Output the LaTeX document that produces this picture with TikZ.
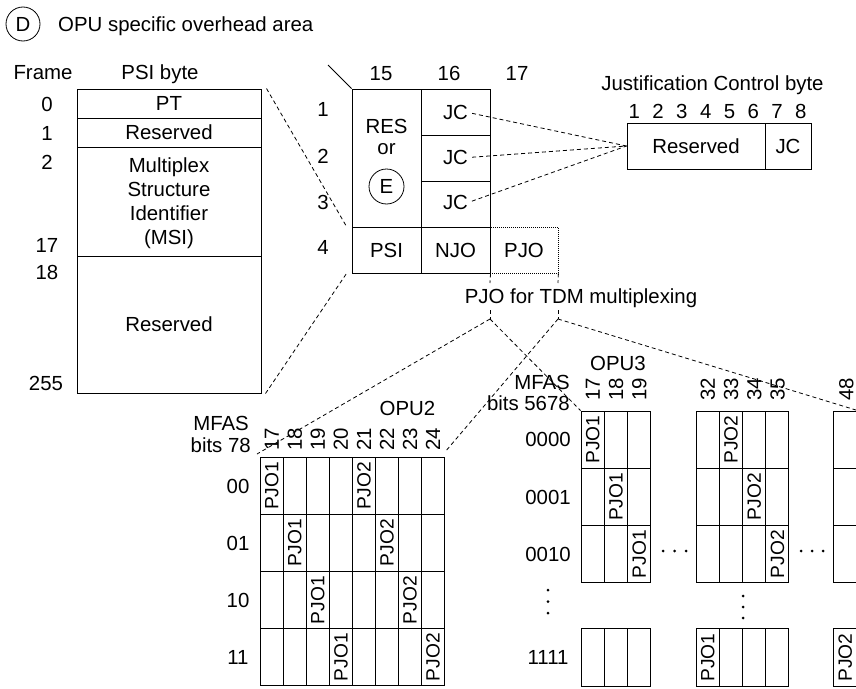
\documentclass[tikz,border=0pt]{standalone}
\usepackage{fontspec}
\setmainfont{Liberation Sans}
\tikzset{
  every node/.style={inner sep=0pt, font=\fontsize{20.4}{24}\selectfont, text height=14.6pt, text depth=0pt},
  cellbox/.style={draw=black, line width=1pt},
  dashline/.style={draw=black, line width=0.8pt, dash pattern=on 4pt off 3pt},
  dotline/.style={draw=black, line width=0.8pt, dash pattern=on 1pt off 1pt},
  rot/.style={rotate=90},
  pjotxt/.style={rotate=90, font=\fontsize{19.2}{22}\selectfont, text height=13.7pt},
  thinline/.style={draw=black, line width=0.8pt}
}
\begin{document}
\begin{tikzpicture}[x=1pt,y=-1pt]
\useasboundingbox (0,0) rectangle (856,688);
\clip (0,0) rectangle (856,688);

% title
\node[circle, thinline, minimum size=34] (dcirc) at (23,24) {D};
\node[anchor=west] (title) at (58,24) {OPU specific overhead area};

% PSI byte box
\node (frame) at (43,72) {Frame};
\node (psibyte) at (160,72) {PSI byte};
\node[cellbox, minimum width=184, minimum height=29] (pt) at (169,103.5) {PT};
\node[cellbox, minimum width=184, minimum height=29] (res1) at (169,132.5) {Reserved};
\node[cellbox, minimum width=184, minimum height=109] (msi) at (169,201.5) {};
\node[cellbox, minimum width=184, minimum height=137] (res2) at (169,324.5) {Reserved};
\node (msi1) at (169,165) {Multiplex};
\node (msi2) at (169,189) {Structure};
\node (msi3) at (169,213) {Identifier};
\node (msi4) at (169,237) {(MSI)};
\node (f0) at (47,104.5) {0};
\node (f1) at (47,133) {1};
\node (f2) at (47,162) {2};
\node (f17) at (47,245) {17};
\node (f18) at (47,272) {18};
\node (f255) at (46,383) {255};

% central overhead block
\node[dotline, minimum width=68, minimum height=46] (pjo) at (524,250) {PJO};
\node[cellbox, minimum width=69, minimum height=138] (res) at (386.5,158) {};
\node[cellbox, minimum width=69, minimum height=46] (jcc1) at (455.5,112) {};
\node[cellbox, minimum width=69, minimum height=46] (jcc2) at (455.5,158) {};
\node[cellbox, minimum width=69, minimum height=46] (jcc3) at (455.5,204) {};
\node[cellbox, minimum width=69, minimum height=46] (psi) at (386.5,250) {PSI};
\node[cellbox, minimum width=69, minimum height=46] (njo) at (455.5,250) {NJO};
\node (restxt) at (386.5,126) {RES};
\node (ortxt) at (386.5,147.5) {or};
\node[circle, thinline, minimum size=35] (ecirc) at (386.5,186.5) {E};
\node (jct1) at (455.5,112.5) {JC};
\node (jct2) at (455.5,157.5) {JC};
\node (jct3) at (455.5,202.5) {JC};
\node (c15) at (381,73) {15};
\node (c16) at (449,73) {16};
\node (c17) at (517,73) {17};
\node (r1) at (323,109) {1};
\node (r2) at (323,156) {2};
\node (r3) at (323,202) {3};
\node (r4) at (323,247) {4};
\coordinate (diagend) at (328,65);
\draw[thinline] (res.north west) -- (diagend);

% connectors PSI box -> PSI cell
\draw[dashline] ([xshift=5pt]pt.north east) -- ([xshift=-5pt]psi.north west);
\draw[dashline] ([xshift=4pt]res2.south east) -- ([xshift=-5pt]psi.south west);

% Justification control byte
\node (jctitle) at (712.5,83) {Justification Control byte};
\foreach \i in {1,...,8} { \node (bit\i) at ({634.3+23.8*(\i-1)},111.5) {\i}; }
\node[cellbox, minimum width=138, minimum height=46] (jbres) at (696,146) {Reserved};
\node[cellbox, minimum width=46, minimum height=46] (jbjc) at (788,146) {JC};
\foreach \i in {1,2,3} { \draw[dashline, shorten <=4pt] (jct\i.east) -- (jbres.west); }

% PJO bracket
\node (pjolab) at (581,296) {PJO for TDM multiplexing};
\coordinate (bk1a) at (490,283);
\coordinate (bk2a) at (558,283);
\coordinate (bk1b) at (490,310);
\coordinate (bk2b) at (558,310);
\coordinate (bk1) at (490,319);
\coordinate (bk2) at (558,319);
\draw[dashline] (njo.south east) -- (bk1a);
\draw[dashline] (pjo.south east) -- (bk2a);
\draw[dashline] (bk1b) -- (bk1);
\draw[dashline] (bk2b) -- (bk2);

% OPU2 grid
\node (opu2) at (407.5,408) {OPU2};
\node[anchor=east] (mf2) at (249,423) {MFAS};
\node[anchor=east] (bt2) at (251,445) {bits 78};
\foreach \r in {0,...,3} {
  \foreach \c in {0,...,7} {
    \node[cellbox, minimum width=23.05, minimum height=57.1] (a-\r-\c) at ({260+23.05*(\c+0.5)},{457.3+57.1*(\r+0.5)}) {};
  }
}
\foreach \c/\n in {0/17,1/18,2/19,3/20,4/21,5/22,6/23,7/24} {
  \node[rot, anchor=west] (h2-\c) at ({260+23.05*(\c+0.5)},451) {\n};
}
\foreach \r/\n in {0/00,1/01,2/10,3/11} {
  \node (m2-\r) at (238,{457.3+57.1*(\r+0.5)}) {\n};
}
\foreach \r in {0,...,3} {
  \pgfmathtruncatemacro{\cc}{\r+4}
  \node[pjotxt] (p1-\r) at (a-\r-\r) {PJO1};
  \node[pjotxt] (p2-\r) at (a-\r-\cc) {PJO2};
}

% OPU3 grids
\node (opu3) at (618,363) {OPU3};
\node[anchor=east] (mf3) at (570,382) {MFAS};
\node[anchor=east] (bt3) at (570,403) {bits 5678};
\foreach \r/\y in {0/439.6,1/496.8,2/554.0,3/657.4} {
  \foreach \c in {0,1,2} {
    \node[cellbox, minimum width=23.2, minimum height=57.2] (g1-\r-\c) at ({581+23.2*(\c+0.5)},\y) {};
  }
  \foreach \c in {0,1,2,3} {
    \node[cellbox, minimum width=23.2, minimum height=57.2] (g2-\r-\c) at ({696+23.2*(\c+0.5)},\y) {};
  }
  \node[cellbox, minimum width=24, minimum height=57.2] (g3-\r) at (845,\y) {};
}
\foreach \r/\y/\n in {0/439.6/0000,1/496.8/0001,2/554.0/0010,3/657.4/1111} {
  \node (m3-\r) at (548,\y) {\n};
}
\foreach \x/\n in {592.6/17,615.8/18,639.0/19,707.6/32,730.8/33,754.0/34,777.2/35,846/48} {
  \node[rot, anchor=west] (h3-\n) at (\x,401) {\n};
}
\node[pjotxt] (q1) at (g1-0-0) {PJO1};
\node[pjotxt] (q2) at (g1-1-1) {PJO1};
\node[pjotxt] (q3) at (g1-2-2) {PJO1};
\node[pjotxt] (q4) at (g2-0-1) {PJO2};
\node[pjotxt] (q5) at (g2-1-2) {PJO2};
\node[pjotxt] (q6) at (g2-2-3) {PJO2};
\node[pjotxt] (q7) at (g2-3-0) {PJO1};
\node[pjotxt] (q8) at (g3-3) {PJO2};

% continuation dots
\foreach \y in {590,601.5,613} { \fill (548,\y) circle (1.5); }
\foreach \y in {596,607,618} { \fill (743,\y) circle (1.5); }
\foreach \x in {663,674.5,686} { \fill (\x,551) circle (1.5); }
\foreach \x in {801,812,823} { \fill (\x,551) circle (1.5); }

% connectors from PJO bracket to the multiplexing grids
\coordinate (o2l) at (257,454);
\coordinate (o2r) at (445,452);
\draw[dashline] (bk1) -- (o2l);
\draw[dashline] (bk2) -- (o2r);
\draw[dashline] (bk1) -- (g1-0-0.north west);
\draw[dashline] (bk2) -- (g3-0.north east);
\end{tikzpicture}
\end{document}
